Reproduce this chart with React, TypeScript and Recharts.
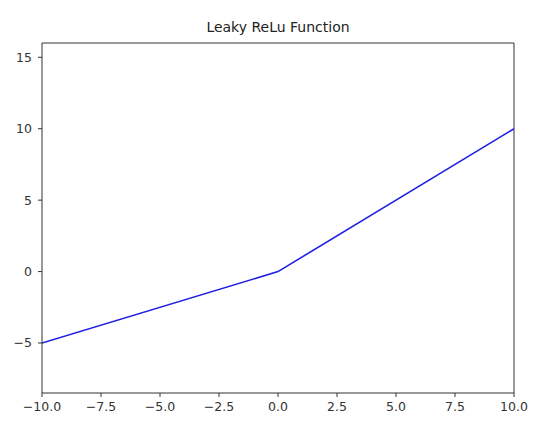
import React from "react";
import { LineChart, Line, XAxis, YAxis, ReferenceLine } from "recharts";

const xValues = [-10, 0, 10];
const yValues = [-5, 0, 10];
const xTicks = [-10, -7.5, -5, -2.5, 0, 2.5, 5, 7.5, 10];
const yTicks = [-5, 0, 5, 10, 15];

const data = xValues.map((x, i) => ({ x, y: yValues[i] }));

const minus = (s: string) => s.replace("-", "\u2212");
const tickStyle = { fontSize: 12.5, fill: "#333", fontFamily: "DejaVu Sans" };

export default function App() {
  return (
    <div style={{ position: "absolute", left: 0, top: 0, width: 555, height: 429, background: "#fff" }}>
      <div
        style={{
          position: "absolute",
          left: 42,
          width: 472,
          top: 19,
          textAlign: "center",
          fontFamily: "DejaVu Sans",
          fontSize: 14,
          color: "#222",
        }}
      >
        Leaky ReLu Function
      </div>
      <LineChart width={555} height={429} data={data} margin={{ top: 43, right: 41, bottom: 0, left: 0 }}>
        <XAxis
          dataKey="x"
          type="number"
          domain={[-10, 10]}
          ticks={xTicks}
          tickFormatter={(v: number) => minus(v.toFixed(1))}
          height={36}
          tickSize={4}
          tickMargin={5}
          tick={tickStyle}
          stroke="#333"
          allowDataOverflow
        />
        <YAxis
          type="number"
          domain={[-8.5, 16]}
          ticks={yTicks}
          tickFormatter={(v: number) => minus(String(v))}
          width={42}
          tickSize={4}
          tickMargin={6}
          tick={tickStyle}
          stroke="#333"
          allowDataOverflow
        />
        {/* frame on the top and right, like matplotlib's spines */}
        <ReferenceLine y={16} stroke="#333" />
        <ReferenceLine x={10} stroke="#333" />
        <Line dataKey="y" stroke="#1f1fe6" strokeWidth={1.6} dot={false} isAnimationActive={false} />
      </LineChart>
    </div>
  );
}
